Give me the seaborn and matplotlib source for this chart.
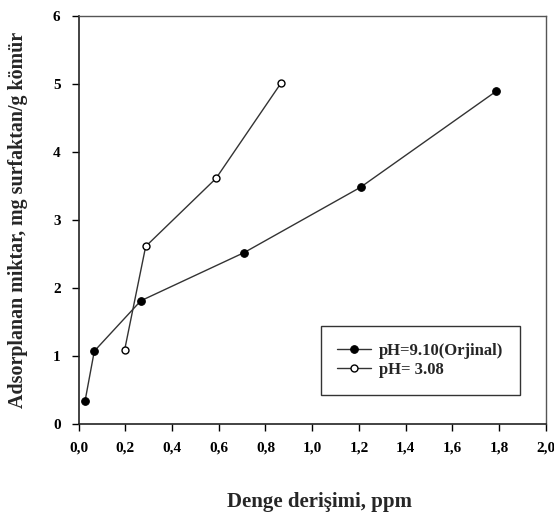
import matplotlib
matplotlib.use("Agg")
import matplotlib.pyplot as plt
import seaborn as sns
import pandas as pd

# Data
x_ph910 = [0.027, 0.067, 0.266, 0.709, 1.207, 1.787]
y_ph910 = [0.33, 1.07, 1.81, 2.52, 3.48, 4.89]
x_ph308 = [0.197, 0.287, 0.588, 0.868]
y_ph308 = [1.09, 2.61, 3.61, 5.02]
label_910 = "pH=9.10(Orjinal)"
label_308 = "pH= 3.08"
xticks = [0.0, 0.2, 0.4, 0.6, 0.8, 1.0, 1.2, 1.4, 1.6, 1.8, 2.0]
xtick_labels = ["0,0", "0,2", "0,4", "0,6", "0,8", "1,0", "1,2", "1,4", "1,6", "1,8", "2,0"]
yticks = [0, 1, 2, 3, 4, 5, 6]
xlabel = "Denge derişimi, ppm"
ylabel = "Adsorplanan miktar, mg surfaktan/g kömür"

sns.set_style("ticks")
plt.rcParams["font.family"] = ["Liberation Serif", "DejaVu Serif"]
plt.rcParams["font.weight"] = "bold"

fig = plt.figure(figsize=(5.54, 5.15), dpi=100)
ax = fig.add_axes([0.142, 0.177, 0.843, 0.792])

df1 = pd.DataFrame({"x": x_ph910, "y": y_ph910})
df2 = pd.DataFrame({"x": x_ph308, "y": y_ph308})

sns.lineplot(data=df1, x="x", y="y", ax=ax, color="#333333", linewidth=1.0,
             marker="o", markersize=5.5, markerfacecolor="black",
             markeredgecolor="black", label=label_910, sort=False)
sns.lineplot(data=df2, x="x", y="y", ax=ax, color="#333333", linewidth=1.0,
             marker="o", markersize=5, markerfacecolor="white",
             markeredgecolor="black", markeredgewidth=1.0, label=label_308, sort=False)

ax.set_xlim(0, 2.0)
ax.set_ylim(0, 6)
ax.set_xticks(xticks)
ax.set_xticklabels(xtick_labels)
ax.set_yticks(yticks)
ax.set_yticklabels([str(v) for v in yticks])
ax.tick_params(axis="both", direction="out", length=5, width=1, colors="black",
               labelsize=11, pad=8)
for lbl in ax.get_xticklabels() + ax.get_yticklabels():
    lbl.set_fontweight("bold")

for s in ["left", "bottom"]:
    ax.spines[s].set_color("#222222")
    ax.spines[s].set_linewidth(1.2)
for s in ["top", "right"]:
    ax.spines[s].set_visible(True)
    ax.spines[s].set_color("#555555")
    ax.spines[s].set_linewidth(1.0)

ax.set_xlabel(xlabel, fontsize=15, fontweight="bold")
ax.xaxis.set_label_coords(0.515, -0.168)
ax.set_ylabel(ylabel, fontsize=14.4, fontweight="bold", labelpad=18)

leg = ax.legend(loc="lower right", bbox_to_anchor=(0.945, 0.071), borderaxespad=0,
                frameon=True, fancybox=False, edgecolor="black",
                prop={"weight": "bold", "size": 12}, handlelength=2.0,
                handletextpad=0.5, borderpad=1.0, labelspacing=0.2)
leg.get_frame().set_linewidth(1.0)

fig.savefig("out.png", dpi=100)
